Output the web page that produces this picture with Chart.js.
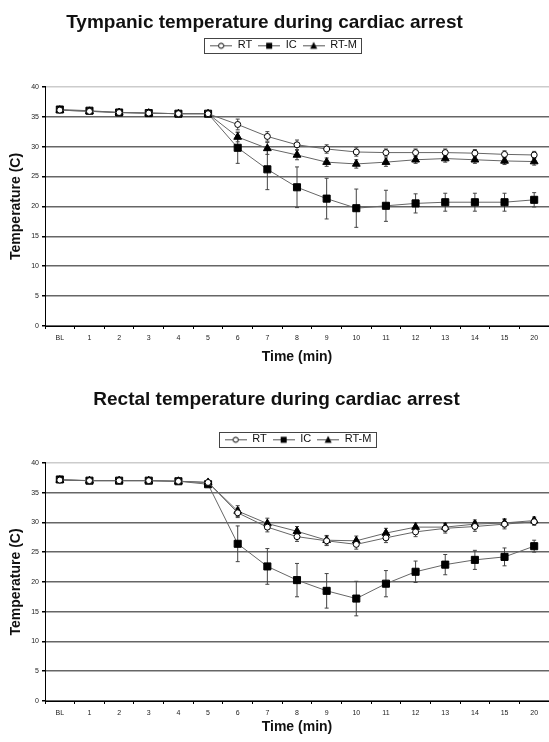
<!DOCTYPE html>
<html>
<head>
<meta charset="utf-8">
<script src="https://cdn.jsdelivr.net/npm/chart.js@4.4.1/dist/chart.umd.min.js"></script>
<style>
  html, body { margin: 0; padding: 0; background: #fff; }
  canvas { display: block; }
</style>
</head>
<body>
<canvas id="tympChart" width="549" height="372"></canvas>
<canvas id="rectChart" width="549" height="370"></canvas>
<script>
const categories = ["BL", "1", "2", "3", "4", "5", "6", "7", "8", "9", "10", "11", "12", "13", "14", "15", "20"];
const yTicks = [0, 5, 10, 15, 20, 25, 30, 35, 40];

// tympanic
const tympRT = [36.1, 35.9, 35.7, 35.6, 35.5, 35.5, 33.7, 31.7, 30.3, 29.6, 29.1, 29.0, 29.0, 29.0, 28.9, 28.7, 28.6];
const tympIC = [36.2, 36.0, 35.7, 35.6, 35.5, 35.5, 29.8, 26.2, 23.2, 21.3, 19.7, 20.1, 20.5, 20.7, 20.7, 20.7, 21.1];
const tympRTM = [36.1, 35.9, 35.7, 35.6, 35.5, 35.5, 31.6, 29.7, 28.6, 27.4, 27.1, 27.4, 27.8, 28.0, 27.8, 27.6, 27.5];
const tympRTErr = [0.2, 0.2, 0.2, 0.2, 0.2, 0.2, 0.9, 0.8, 0.8, 0.7, 0.7, 0.6, 0.6, 0.6, 0.6, 0.6, 0.6];
const tympICErr = [0.3, 0.3, 0.3, 0.3, 0.3, 0.3, 2.6, 3.4, 3.4, 3.4, 3.2, 2.6, 1.6, 1.5, 1.5, 1.5, 1.2];
const tympRTMErr = [0.2, 0.2, 0.2, 0.2, 0.2, 0.2, 0.8, 1.0, 0.8, 0.7, 0.7, 0.7, 0.6, 0.6, 0.6, 0.6, 0.6];

// rectal
const recRT = [37.1, 37.0, 37.0, 37.0, 36.9, 36.7, 31.6, 29.2, 27.6, 26.9, 26.3, 27.4, 28.4, 29.0, 29.3, 29.7, 30.1];
const recIC = [37.2, 37.0, 37.0, 37.0, 36.9, 36.4, 26.4, 22.6, 20.3, 18.5, 17.2, 19.7, 21.7, 22.9, 23.7, 24.2, 26.0];
const recRTM = [37.1, 37.0, 37.0, 37.0, 36.9, 36.7, 31.9, 29.8, 28.5, 27.0, 26.9, 28.2, 29.2, 29.2, 29.7, 29.9, 30.3];
const recRTErr = [0.2, 0.2, 0.2, 0.2, 0.2, 0.2, 0.8, 0.8, 0.8, 0.8, 0.8, 0.8, 0.8, 0.8, 0.8, 0.8, 0.6];
const recICErr = [0.3, 0.3, 0.3, 0.3, 0.3, 0.3, 3.0, 3.0, 2.8, 2.9, 2.9, 2.2, 1.8, 1.7, 1.6, 1.5, 1.0];
const recRTMErr = [0.2, 0.2, 0.2, 0.2, 0.2, 0.2, 0.9, 0.9, 0.8, 0.8, 0.8, 0.8, 0.7, 0.7, 0.7, 0.7, 0.6];

const FONT = "'Liberation Sans', Arial, sans-serif";

// small legend icons: line with marker in the middle
function makeIcon(kind) {
    const c = document.createElement("canvas");
    c.width = 22; c.height = 10;
    const g = c.getContext("2d");
    g.strokeStyle = "#555"; g.lineWidth = 1;
    g.beginPath(); g.moveTo(0, 5.5); g.lineTo(22, 5.5); g.stroke();
    g.fillStyle = "#000"; g.strokeStyle = "#000";
    if (kind === "circle") {
        g.fillStyle = "#fff";
        g.beginPath(); g.arc(11, 5.5, 2.6, 0, Math.PI * 2); g.fill(); g.stroke();
    } else if (kind === "rect") {
        g.fillRect(8, 2.5, 6, 6);
    } else {
        g.beginPath(); g.moveTo(11, 1.5); g.lineTo(14.5, 8.5); g.lineTo(7.5, 8.5); g.closePath(); g.fill();
    }
    return c;
}
const icons = [makeIcon("circle"), makeIcon("rect"), makeIcon("triangle")];

// error bars drawn through the y scale
const errorBars = {
    id: "errorBars",
    beforeDatasetsDraw(chart) {
        const ctx = chart.ctx;
        const y = chart.scales.y;
        ctx.save();
        ctx.strokeStyle = "#444";
        ctx.lineWidth = 1;
        chart.data.datasets.forEach((ds, di) => {
            const meta = chart.getDatasetMeta(di);
            meta.data.forEach((pt, i) => {
                const e = ds.err[i];
                const top = y.getPixelForValue(ds.data[i] + e);
                const bot = y.getPixelForValue(ds.data[i] - e);
                ctx.beginPath();
                ctx.moveTo(pt.x, top); ctx.lineTo(pt.x, bot);
                ctx.moveTo(pt.x - 2, top); ctx.lineTo(pt.x + 2, top);
                ctx.moveTo(pt.x - 2, bot); ctx.lineTo(pt.x + 2, bot);
                ctx.stroke();
            });
        });
        ctx.restore();
    }
};

// legend: extra room below it, horizontal shift, a frame round the items; title shift too
function blockTweaks(extra, legendShift, titleShift) {
    return {
        id: "blockTweaks",
        beforeInit(chart) {
            const lg = chart.legend;
            const fit = lg.fit;
            lg.fit = function () { fit.call(this); this.height += extra; };
        },
        afterLayout(chart) {
            chart.legend.left += legendShift;
            chart.legend.right += legendShift;
            chart.titleBlock.left += titleShift;
            chart.titleBlock.right += titleShift;
        },
        afterDraw(chart) {
            const boxes = chart.legend.legendHitBoxes;
            if (!boxes || !boxes.length) return;
            const left = Math.min(...boxes.map(b => b.left)) - 6;
            const right = Math.max(...boxes.map(b => b.left + b.width)) + 4;
            const top = boxes[0].top - 2;
            const h = boxes[0].height + 4;
            const ctx = chart.ctx;
            ctx.save();
            ctx.strokeStyle = "#444";
            ctx.lineWidth = 1;
            ctx.strokeRect(Math.round(left) + 0.5, Math.round(top) + 0.5, Math.round(right - left), Math.round(h));
            ctx.restore();
        }
    };
}

function makeChart(id, title, series, errs, cfg) {
    const base = {
        borderColor: "#666",
        borderWidth: 1,
        pointBorderColor: "#000",
        pointBorderWidth: 1,
        tension: 0
    };
    return new Chart(document.getElementById(id), {
        type: "line",
        data: {
            labels: categories,
            datasets: [
                Object.assign({}, base, { label: "RT", data: series[0], err: errs[0], pointStyle: "circle", pointRadius: 3, pointBackgroundColor: "#fff" }),
                Object.assign({}, base, { label: "IC", data: series[1], err: errs[1], pointStyle: "rect", pointRadius: 5, pointBackgroundColor: "#000" }),
                Object.assign({}, base, { label: "RT-M", data: series[2], err: errs[2], pointStyle: "triangle", pointRadius: 4.5, pointBackgroundColor: "#000" })
            ]
        },
        options: {
            responsive: false,
            animation: false,
            layout: { padding: 0, autoPadding: false },
            plugins: {
                title: {
                    display: true,
                    text: title,
                    color: "#111",
                    font: { family: FONT, size: 19, weight: "bold" },
                    padding: cfg.titlePad
                },
                legend: {
                    position: "top",
                    labels: {
                        usePointStyle: true,
                        pointStyleWidth: 22,
                        boxHeight: 10,
                        padding: 6,
                        color: "#111",
                        font: { family: FONT, size: 11 },
                        generateLabels(chart) {
                            return Chart.defaults.plugins.legend.labels.generateLabels(chart)
                                .map((l, i) => Object.assign(l, { pointStyle: icons[i] }));
                        }
                    }
                },
                tooltip: { enabled: false }
            },
            scales: {
                x: {
                    type: "category",
                    offset: true,
                    afterFit(scale) {
                        scale.height = cfg.xHeight;
                        scale.paddingLeft = 0;
                        scale.paddingRight = 0;
                    },
                    grid: { offset: true, drawOnChartArea: false, drawTicks: true, tickLength: 3, color: "#000" },
                    border: { display: true, color: "#000", width: 1 },
                    ticks: { color: "#222", font: { family: FONT, size: 7 }, padding: 5, maxRotation: 0, autoSkip: false },
                    title: { display: true, text: "Time (min)", color: "#111", font: { family: FONT, size: 14, weight: "bold" }, padding: { top: 0, bottom: 6 } }
                },
                y: {
                    min: 0,
                    max: 40,
                    afterBuildTicks(scale) { scale.ticks = yTicks.map(v => ({ value: v })); },
                    afterFit(scale) { scale.width = 45; },
                    grid: {
                        color: (c) => c.tick && c.tick.value === 40 ? "#ccc" : "#666",
                        lineWidth: 1.5,
                        tickLength: 3,
                        tickColor: "#000"
                    },
                    border: { display: true, color: "#000", width: 1 },
                    ticks: { color: "#222", font: { family: FONT, size: 7 }, padding: 3 },
                    title: { display: true, text: "Temperature (C)", color: "#111", font: { family: FONT, size: 14, weight: "bold" }, padding: { top: 8, bottom: 0 } }
                }
            }
        },
        plugins: [errorBars, blockTweaks(cfg.legendExtra, cfg.legendShift, cfg.titleShift)]
    });
}

makeChart("tympChart", "Tympanic temperature during cardiac arrest",
    [tympRT, tympIC, tympRTM], [tympRTErr, tympICErr, tympRTMErr],
    { titlePad: { top: 11, bottom: 0 }, legendExtra: 26, legendShift: 9, titleShift: -10, xHeight: 46 });
makeChart("rectChart", "Rectal temperature during cardiac arrest",
    [recRT, recIC, recRTM], [recRTErr, recICErr, recRTMErr],
    { titlePad: { top: 16, bottom: 17 }, legendExtra: 8, legendShift: 23.5, titleShift: 2, xHeight: 41 });
</script>
</body>
</html>
